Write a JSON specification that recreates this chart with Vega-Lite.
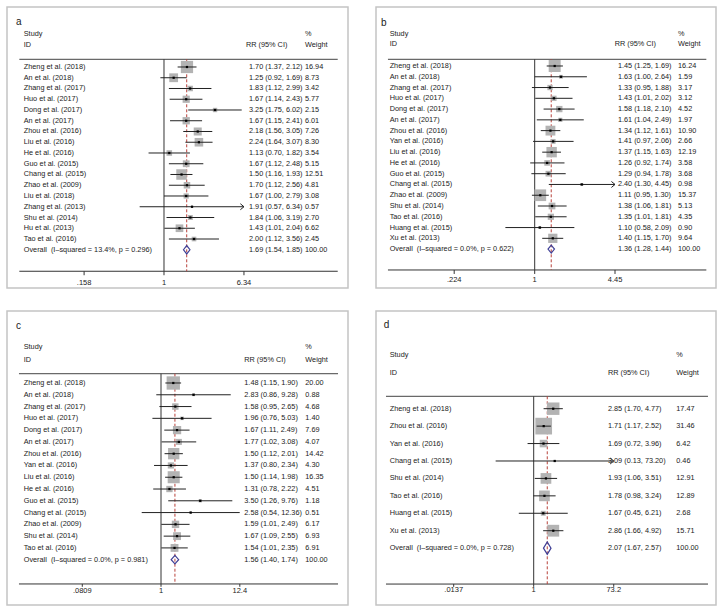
{
"$schema":"https://vega.github.io/schema/vega-lite/v6.json",
"padding":{"left":6,"top":6,"right":0,"bottom":0},
"background":"white",
"config":{"view":{"stroke":"#c4c4c4","strokeWidth":1.5},"font":"Liberation Sans","text":{"font":"Liberation Sans","fontSize":7.3,"color":"#222","align":"left","baseline":"middle"}},
"datasets":{
"a":[
{"i":1,"study":"Zheng et al. (2018)","rr":1.70,"lo":1.37,"hi":2.12,"ci":"1.70 (1.37, 2.12)","w":16.94,"kind":"study"},
{"i":2,"study":"An et al. (2018)","rr":1.25,"lo":0.92,"hi":1.69,"ci":"1.25 (0.92, 1.69)","w":8.73,"kind":"study"},
{"i":3,"study":"Zhang et al. (2017)","rr":1.83,"lo":1.12,"hi":2.99,"ci":"1.83 (1.12, 2.99)","w":3.42,"kind":"study"},
{"i":4,"study":"Huo et al. (2017)","rr":1.67,"lo":1.14,"hi":2.43,"ci":"1.67 (1.14, 2.43)","w":5.77,"kind":"study"},
{"i":5,"study":"Dong et al. (2017)","rr":3.25,"lo":1.75,"hi":6.02,"ci":"3.25 (1.75, 6.02)","w":2.15,"kind":"study"},
{"i":6,"study":"An et al. (2017)","rr":1.67,"lo":1.15,"hi":2.41,"ci":"1.67 (1.15, 2.41)","w":6.01,"kind":"study"},
{"i":7,"study":"Zhou et al. (2016)","rr":2.18,"lo":1.56,"hi":3.05,"ci":"2.18 (1.56, 3.05)","w":7.26,"kind":"study"},
{"i":8,"study":"Liu et al. (2016)","rr":2.24,"lo":1.64,"hi":3.07,"ci":"2.24 (1.64, 3.07)","w":8.30,"kind":"study"},
{"i":9,"study":"He et al. (2016)","rr":1.13,"lo":0.70,"hi":1.82,"ci":"1.13 (0.70, 1.82)","w":3.54,"kind":"study"},
{"i":10,"study":"Guo et al. (2015)","rr":1.67,"lo":1.12,"hi":2.48,"ci":"1.67 (1.12, 2.48)","w":5.15,"kind":"study"},
{"i":11,"study":"Chang et al. (2015)","rr":1.50,"lo":1.16,"hi":1.93,"ci":"1.50 (1.16, 1.93)","w":12.51,"kind":"study"},
{"i":12,"study":"Zhao et al. (2009)","rr":1.70,"lo":1.12,"hi":2.56,"ci":"1.70 (1.12, 2.56)","w":4.81,"kind":"study"},
{"i":13,"study":"Liu et al. (2018)","rr":1.67,"lo":1.00,"hi":2.79,"ci":"1.67 (1.00, 2.79)","w":3.08,"kind":"study"},
{"i":14,"study":"Zhang et al. (2013)","rr":1.91,"lo":0.57,"hi":6.34,"ci":"1.91 (0.57, 6.34)","w":0.57,"kind":"study"},
{"i":15,"study":"Shu et al. (2014)","rr":1.84,"lo":1.06,"hi":3.19,"ci":"1.84 (1.06, 3.19)","w":2.70,"kind":"study"},
{"i":16,"study":"Hu et al. (2013)","rr":1.43,"lo":1.01,"hi":2.04,"ci":"1.43 (1.01, 2.04)","w":6.62,"kind":"study"},
{"i":17,"study":"Tao et al. (2016)","rr":2.00,"lo":1.12,"hi":3.56,"ci":"2.00 (1.12, 3.56)","w":2.45,"kind":"study"},
{"i":18,"study":"Overall\u00a0 (I–squared = 13.4%, p = 0.296)","rr":1.69,"lo":1.54,"hi":1.85,"ci":"1.69 (1.54, 1.85)","w":100.00,"kind":"overall"}
],
"b":[
{"i":1,"study":"Zheng et al. (2018)","rr":1.45,"lo":1.25,"hi":1.69,"ci":"1.45 (1.25, 1.69)","w":16.24,"kind":"study"},
{"i":2,"study":"An et al. (2018)","rr":1.63,"lo":1.00,"hi":2.64,"ci":"1.63 (1.00, 2.64)","w":1.59,"kind":"study"},
{"i":3,"study":"Zhang et al. (2017)","rr":1.33,"lo":0.95,"hi":1.88,"ci":"1.33 (0.95, 1.88)","w":3.17,"kind":"study"},
{"i":4,"study":"Huo et al. (2017)","rr":1.43,"lo":1.01,"hi":2.02,"ci":"1.43 (1.01, 2.02)","w":3.12,"kind":"study"},
{"i":5,"study":"Dong et al. (2017)","rr":1.58,"lo":1.18,"hi":2.10,"ci":"1.58 (1.18, 2.10)","w":4.52,"kind":"study"},
{"i":6,"study":"An et al. (2017)","rr":1.61,"lo":1.04,"hi":2.49,"ci":"1.61 (1.04, 2.49)","w":1.97,"kind":"study"},
{"i":7,"study":"Zhou et al. (2016)","rr":1.34,"lo":1.12,"hi":1.61,"ci":"1.34 (1.12, 1.61)","w":10.90,"kind":"study"},
{"i":8,"study":"Yan et al. (2016)","rr":1.41,"lo":0.97,"hi":2.06,"ci":"1.41 (0.97, 2.06)","w":2.66,"kind":"study"},
{"i":9,"study":"Liu et al. (2016)","rr":1.37,"lo":1.15,"hi":1.63,"ci":"1.37 (1.15, 1.63)","w":12.19,"kind":"study"},
{"i":10,"study":"He et al. (2016)","rr":1.26,"lo":0.92,"hi":1.74,"ci":"1.26 (0.92, 1.74)","w":3.58,"kind":"study"},
{"i":11,"study":"Guo et al. (2015)","rr":1.29,"lo":0.94,"hi":1.78,"ci":"1.29 (0.94, 1.78)","w":3.68,"kind":"study"},
{"i":12,"study":"Chang et al. (2015)","rr":2.40,"lo":1.30,"hi":4.45,"ci":"2.40 (1.30, 4.45)","w":0.98,"kind":"study"},
{"i":13,"study":"Zhao et al. (2009)","rr":1.11,"lo":0.95,"hi":1.30,"ci":"1.11 (0.95, 1.30)","w":15.37,"kind":"study"},
{"i":14,"study":"Shu et al. (2014)","rr":1.38,"lo":1.06,"hi":1.81,"ci":"1.38 (1.06, 1.81)","w":5.13,"kind":"study"},
{"i":15,"study":"Tao et al. (2016)","rr":1.35,"lo":1.01,"hi":1.81,"ci":"1.35 (1.01, 1.81)","w":4.35,"kind":"study"},
{"i":16,"study":"Huang et al. (2015)","rr":1.10,"lo":0.58,"hi":2.09,"ci":"1.10 (0.58, 2.09)","w":0.90,"kind":"study"},
{"i":17,"study":"Xu et al. (2013)","rr":1.40,"lo":1.15,"hi":1.70,"ci":"1.40 (1.15, 1.70)","w":9.64,"kind":"study"},
{"i":18,"study":"Overall\u00a0 (I–squared = 0.0%, p = 0.622)","rr":1.36,"lo":1.28,"hi":1.44,"ci":"1.36 (1.28, 1.44)","w":100.00,"kind":"overall"}
],
"c":[
{"i":1,"study":"Zheng et al. (2018)","rr":1.48,"lo":1.15,"hi":1.90,"ci":"1.48 (1.15, 1.90)","w":20.00,"kind":"study"},
{"i":2,"study":"An et al. (2018)","rr":2.83,"lo":0.86,"hi":9.28,"ci":"2.83 (0.86, 9.28)","w":0.88,"kind":"study"},
{"i":3,"study":"Zhang et al. (2017)","rr":1.58,"lo":0.95,"hi":2.65,"ci":"1.58 (0.95, 2.65)","w":4.68,"kind":"study"},
{"i":4,"study":"Huo et al. (2017)","rr":1.96,"lo":0.76,"hi":5.03,"ci":"1.96 (0.76, 5.03)","w":1.40,"kind":"study"},
{"i":5,"study":"Dong et al. (2017)","rr":1.67,"lo":1.11,"hi":2.49,"ci":"1.67 (1.11, 2.49)","w":7.69,"kind":"study"},
{"i":6,"study":"An et al. (2017)","rr":1.77,"lo":1.02,"hi":3.08,"ci":"1.77 (1.02, 3.08)","w":4.07,"kind":"study"},
{"i":7,"study":"Zhou et al. (2016)","rr":1.50,"lo":1.12,"hi":2.01,"ci":"1.50 (1.12, 2.01)","w":14.42,"kind":"study"},
{"i":8,"study":"Yan et al. (2016)","rr":1.37,"lo":0.80,"hi":2.34,"ci":"1.37 (0.80, 2.34)","w":4.30,"kind":"study"},
{"i":9,"study":"Liu et al. (2016)","rr":1.50,"lo":1.14,"hi":1.98,"ci":"1.50 (1.14, 1.98)","w":16.35,"kind":"study"},
{"i":10,"study":"He et al. (2016)","rr":1.31,"lo":0.78,"hi":2.22,"ci":"1.31 (0.78, 2.22)","w":4.51,"kind":"study"},
{"i":11,"study":"Guo et al. (2015)","rr":3.50,"lo":1.26,"hi":9.76,"ci":"3.50 (1.26, 9.76)","w":1.18,"kind":"study"},
{"i":12,"study":"Chang et al. (2015)","rr":2.58,"lo":0.54,"hi":12.36,"ci":"2.58 (0.54, 12.36)","w":0.51,"kind":"study"},
{"i":13,"study":"Zhao et al. (2009)","rr":1.59,"lo":1.01,"hi":2.49,"ci":"1.59 (1.01, 2.49)","w":6.17,"kind":"study"},
{"i":14,"study":"Shu et al. (2014)","rr":1.67,"lo":1.09,"hi":2.55,"ci":"1.67 (1.09, 2.55)","w":6.93,"kind":"study"},
{"i":15,"study":"Tao et al. (2016)","rr":1.54,"lo":1.01,"hi":2.35,"ci":"1.54 (1.01, 2.35)","w":6.91,"kind":"study"},
{"i":16,"study":"Overall\u00a0 (I–squared = 0.0%, p = 0.981)","rr":1.56,"lo":1.40,"hi":1.74,"ci":"1.56 (1.40, 1.74)","w":100.00,"kind":"overall"}
],
"d":[
{"i":1,"study":"Zheng et al. (2018)","rr":2.85,"lo":1.70,"hi":4.77,"ci":"2.85 (1.70, 4.77)","w":17.47,"kind":"study"},
{"i":2,"study":"Zhou et al. (2016)","rr":1.71,"lo":1.17,"hi":2.52,"ci":"1.71 (1.17, 2.52)","w":31.46,"kind":"study"},
{"i":3,"study":"Yan et al. (2016)","rr":1.69,"lo":0.72,"hi":3.96,"ci":"1.69 (0.72, 3.96)","w":6.42,"kind":"study"},
{"i":4,"study":"Chang et al. (2015)","rr":3.09,"lo":0.13,"hi":73.20,"ci":"3.09 (0.13, 73.20)","w":0.46,"kind":"study"},
{"i":5,"study":"Shu et al. (2014)","rr":1.93,"lo":1.06,"hi":3.51,"ci":"1.93 (1.06, 3.51)","w":12.91,"kind":"study"},
{"i":6,"study":"Tao et al. (2016)","rr":1.78,"lo":0.98,"hi":3.24,"ci":"1.78 (0.98, 3.24)","w":12.89,"kind":"study"},
{"i":7,"study":"Huang et al. (2015)","rr":1.67,"lo":0.45,"hi":6.21,"ci":"1.67 (0.45, 6.21)","w":2.68,"kind":"study"},
{"i":8,"study":"Xu et al. (2013)","rr":2.86,"lo":1.66,"hi":4.92,"ci":"2.86 (1.66, 4.92)","w":15.71,"kind":"study"},
{"i":9,"study":"Overall\u00a0 (I–squared = 0.0%, p = 0.728)","rr":2.07,"lo":1.67,"hi":2.57,"ci":"2.07 (1.67, 2.57)","w":100.00,"kind":"overall"}
]
},
"spacing":21,
"vconcat":[
{"spacing":26,"hconcat":[
{"width":341,"height":281,"data":{"name":"a"},"layer":[
{"data":{"values":[{}]},"mark":{"type":"rule","color":"#444","strokeWidth":1},"encoding":{"x":{"datum":0.0354,"axis":null},"x2":{"datum":55.3},"y":{"datum":0.284,"axis":null}}},
{"data":{"values":[{}]},"mark":{"type":"rule","color":"#333","strokeWidth":1},"encoding":{"x":{"datum":0.0354,"axis":null},"x2":{"datum":55.3},"y":{"datum":20,"axis":null}}},
{"data":{"values":[{}]},"mark":{"type":"rule","color":"#333","strokeWidth":1},"encoding":{"x":{"datum":1,"axis":null},"y":{"datum":0.284,"axis":null},"y2":{"datum":20}}},
{"data":{"values":[{}]},"mark":{"type":"rule","color":"#b8413a","strokeWidth":1,"strokeDash":[3,2]},"encoding":{"x":{"datum":1.69,"axis":null},"y":{"datum":0.284,"axis":null},"y2":{"datum":20}}},
{"data":{"values":[{"t":0.158,"lab":".158"},{"t":1,"lab":"1"},{"t":6.34,"lab":"6.34"}]},"layer":[
{"mark":{"type":"rule","color":"#333","strokeWidth":1},"encoding":{"x":{"field":"t","type":"quantitative","axis":null},"y":{"datum":20,"axis":null},"y2":{"datum":20.37}}},
{"mark":{"type":"text","align":"center","fontSize":7.5},"encoding":{"x":{"field":"t","type":"quantitative","axis":null},"y":{"datum":21.09,"axis":null},"text":{"field":"lab"}}}
]},
{"transform":[{"filter":"datum.kind=='study'"}],"mark":{"type":"square","color":"#b3b3b3","opacity":1},"encoding":{"x":{"field":"rr","type":"quantitative","scale":{"type":"log","domain":[0.02662,70.1],"nice":false},"axis":null},"y":{"field":"i","type":"quantitative","scale":{"domain":[-4.581,21.558],"reverse":true,"nice":false,"zero":false},"axis":null},"size":{"field":"w","type":"quantitative","scale":{"domain":[0,16.94],"range":[0,279]},"legend":null}}},
{"transform":[{"filter":"datum.kind=='study'"}],"mark":{"type":"rule","color":"#222","strokeWidth":1},"encoding":{"x":{"field":"lo","type":"quantitative","axis":null},"x2":{"field":"hi"},"y":{"field":"i","type":"quantitative","axis":null}}},
{"transform":[{"filter":"datum.kind=='study' && datum.hi>=6.34"}],"mark":{"type":"point","shape":"M-1.2,-1L0,0L-1.2,1","filled":false,"stroke":"#222","strokeWidth":1,"size":36,"opacity":1},"encoding":{"x":{"field":"hi","type":"quantitative","axis":null},"y":{"field":"i","type":"quantitative","axis":null}}},
{"transform":[{"filter":"datum.kind=='study'"}],"mark":{"type":"point","shape":"square","filled":true,"color":"#000","size":5,"opacity":1},"encoding":{"x":{"field":"rr","type":"quantitative","axis":null},"y":{"field":"i","type":"quantitative","axis":null}}},
{"transform":[{"filter":"datum.kind=='overall'"}],"mark":{"type":"point","shape":"M-0.78,0L0,-1L0.78,0L0,1Z","filled":false,"stroke":"#3f3f96","strokeWidth":1.2,"size":69,"opacity":1},"encoding":{"x":{"field":"rr","type":"quantitative","axis":null},"y":{"field":"i","type":"quantitative","axis":null}}},
{"mark":{"type":"text"},"encoding":{"x":{"datum":0.0392,"axis":null},"y":{"field":"i","type":"quantitative","axis":null},"text":{"field":"study"}}},
{"mark":{"type":"text"},"encoding":{"x":{"datum":7.12,"axis":null},"y":{"field":"i","type":"quantitative","axis":null},"text":{"field":"ci"}}},
{"mark":{"type":"text"},"encoding":{"x":{"datum":25.95,"axis":null},"y":{"field":"i","type":"quantitative","axis":null},"text":{"field":"w","type":"quantitative","format":".2f"}}},
{"data":{"values":[{}]},"mark":{"type":"text","text":"a","fontSize":10},"encoding":{"x":{"datum":0.0328,"axis":null},"y":{"datum":-3.19,"axis":null}}},
{"data":{"values":[{}]},"mark":{"type":"text","text":"Study"},"encoding":{"x":{"datum":0.0392,"axis":null},"y":{"datum":-2.04,"axis":null}}},
{"data":{"values":[{}]},"mark":{"type":"text","text":"ID"},"encoding":{"x":{"datum":0.0392,"axis":null},"y":{"datum":-1.05,"axis":null}}},
{"data":{"values":[{}]},"mark":{"type":"text","text":"RR (95% CI)"},"encoding":{"x":{"datum":6.645,"axis":null},"y":{"datum":-1.05,"axis":null}}},
{"data":{"values":[{}]},"mark":{"type":"text","text":"%"},"encoding":{"x":{"datum":25.95,"axis":null},"y":{"datum":-2.04,"axis":null}}},
{"data":{"values":[{}]},"mark":{"type":"text","text":"Weight"},"encoding":{"x":{"datum":25.95,"axis":null},"y":{"datum":-1.05,"axis":null}}}
]},
{"width":340,"height":281,"data":{"name":"b"},"layer":[
{"data":{"values":[{}]},"mark":{"type":"rule","color":"#444","strokeWidth":1},"encoding":{"x":{"datum":0.0654,"axis":null},"x2":{"datum":24.3},"y":{"datum":0.378,"axis":null}}},
{"data":{"values":[{}]},"mark":{"type":"rule","color":"#333","strokeWidth":1},"encoding":{"x":{"datum":0.0654,"axis":null},"x2":{"datum":24.3},"y":{"datum":19.94,"axis":null}}},
{"data":{"values":[{}]},"mark":{"type":"rule","color":"#333","strokeWidth":1},"encoding":{"x":{"datum":1,"axis":null},"y":{"datum":0.378,"axis":null},"y2":{"datum":19.94}}},
{"data":{"values":[{}]},"mark":{"type":"rule","color":"#b8413a","strokeWidth":1,"strokeDash":[3,2]},"encoding":{"x":{"datum":1.36,"axis":null},"y":{"datum":0.378,"axis":null},"y2":{"datum":19.94}}},
{"data":{"values":[{"t":0.224,"lab":".224"},{"t":1,"lab":"1"},{"t":4.45,"lab":"4.45"}]},"layer":[
{"mark":{"type":"rule","color":"#333","strokeWidth":1},"encoding":{"x":{"field":"t","type":"quantitative","axis":null},"y":{"datum":19.94,"axis":null},"y2":{"datum":20.31}}},
{"mark":{"type":"text","align":"center","fontSize":7.5},"encoding":{"x":{"field":"t","type":"quantitative","axis":null},"y":{"datum":20.85,"axis":null},"text":{"field":"lab"}}}
]},
{"transform":[{"filter":"datum.kind=='study'"}],"mark":{"type":"square","color":"#b3b3b3","opacity":1},"encoding":{"x":{"field":"rr","type":"quantitative","scale":{"type":"log","domain":[0.05236,29.08],"nice":false},"axis":null},"y":{"field":"i","type":"quantitative","scale":{"domain":[-4.478,21.613],"reverse":true,"nice":false,"zero":false},"axis":null},"size":{"field":"w","type":"quantitative","scale":{"domain":[0,16.24],"range":[0,225]},"legend":null}}},
{"transform":[{"filter":"datum.kind=='study'"}],"mark":{"type":"rule","color":"#222","strokeWidth":1},"encoding":{"x":{"field":"lo","type":"quantitative","axis":null},"x2":{"field":"hi"},"y":{"field":"i","type":"quantitative","axis":null}}},
{"transform":[{"filter":"datum.kind=='study' && datum.hi>=4.45"}],"mark":{"type":"point","shape":"M-1.2,-1L0,0L-1.2,1","filled":false,"stroke":"#222","strokeWidth":1,"size":36,"opacity":1},"encoding":{"x":{"field":"hi","type":"quantitative","axis":null},"y":{"field":"i","type":"quantitative","axis":null}}},
{"transform":[{"filter":"datum.kind=='study'"}],"mark":{"type":"point","shape":"square","filled":true,"color":"#000","size":5,"opacity":1},"encoding":{"x":{"field":"rr","type":"quantitative","axis":null},"y":{"field":"i","type":"quantitative","axis":null}}},
{"transform":[{"filter":"datum.kind=='overall'"}],"mark":{"type":"point","shape":"M-0.81,0L0,-1L0.81,0L0,1Z","filled":false,"stroke":"#3f3f96","strokeWidth":1.2,"size":64,"opacity":1},"encoding":{"x":{"field":"rr","type":"quantitative","axis":null},"y":{"field":"i","type":"quantitative","axis":null}}},
{"mark":{"type":"text"},"encoding":{"x":{"datum":0.0675,"axis":null},"y":{"field":"i","type":"quantitative","axis":null},"text":{"field":"study"}}},
{"mark":{"type":"text"},"encoding":{"x":{"datum":4.70,"axis":null},"y":{"field":"i","type":"quantitative","axis":null},"text":{"field":"ci"}}},
{"mark":{"type":"text"},"encoding":{"x":{"datum":14.35,"axis":null},"y":{"field":"i","type":"quantitative","axis":null},"text":{"field":"w","type":"quantitative","format":".2f"}}},
{"data":{"values":[{}]},"mark":{"type":"text","text":"b","fontSize":10},"encoding":{"x":{"datum":0.0574,"axis":null},"y":{"datum":-3.02,"axis":null}}},
{"data":{"values":[{}]},"mark":{"type":"text","text":"Study"},"encoding":{"x":{"datum":0.0675,"axis":null},"y":{"datum":-1.943,"axis":null}}},
{"data":{"values":[{}]},"mark":{"type":"text","text":"ID"},"encoding":{"x":{"datum":0.0675,"axis":null},"y":{"datum":-1.015,"axis":null}}},
{"data":{"values":[{}]},"mark":{"type":"text","text":"RR (95% CI)"},"encoding":{"x":{"datum":4.42,"axis":null},"y":{"datum":-1.015,"axis":null}}},
{"data":{"values":[{}]},"mark":{"type":"text","text":"%"},"encoding":{"x":{"datum":14.35,"axis":null},"y":{"datum":-1.943,"axis":null}}},
{"data":{"values":[{}]},"mark":{"type":"text","text":"Weight"},"encoding":{"x":{"datum":14.35,"axis":null},"y":{"datum":-1.015,"axis":null}}}
]}
]},
{"spacing":26,"hconcat":[
{"width":341,"height":294,"data":{"name":"c"},"layer":[
{"data":{"values":[{}]},"mark":{"type":"rule","color":"#444","strokeWidth":1},"encoding":{"x":{"datum":0.0107,"axis":null},"x2":{"datum":285.7},"y":{"datum":0.211,"axis":null}}},
{"data":{"values":[{}]},"mark":{"type":"rule","color":"#333","strokeWidth":1},"encoding":{"x":{"datum":0.0107,"axis":null},"x2":{"datum":285.7},"y":{"datum":18.06,"axis":null}}},
{"data":{"values":[{}]},"mark":{"type":"rule","color":"#333","strokeWidth":1},"encoding":{"x":{"datum":1,"axis":null},"y":{"datum":0.211,"axis":null},"y2":{"datum":18.06}}},
{"data":{"values":[{}]},"mark":{"type":"rule","color":"#b8413a","strokeWidth":1,"strokeDash":[3,2]},"encoding":{"x":{"datum":1.56,"axis":null},"y":{"datum":0.211,"axis":null},"y2":{"datum":18.06}}},
{"data":{"values":[{"t":0.0809,"lab":".0809"},{"t":1,"lab":"1"},{"t":12.4,"lab":"12.4"}]},"layer":[
{"mark":{"type":"rule","color":"#333","strokeWidth":1},"encoding":{"x":{"field":"t","type":"quantitative","axis":null},"y":{"datum":18.06,"axis":null},"y2":{"datum":18.3}}},
{"mark":{"type":"text","align":"center","fontSize":7.5},"encoding":{"x":{"field":"t","type":"quantitative","axis":null},"y":{"datum":18.66,"axis":null},"text":{"field":"lab"}}}
]},
{"transform":[{"filter":"datum.kind=='study'"}],"mark":{"type":"square","color":"#b3b3b3","opacity":1},"encoding":{"x":{"field":"rr","type":"quantitative","scale":{"type":"log","domain":[0.0073,393],"nice":false},"axis":null},"y":{"field":"i","type":"quantitative","scale":{"domain":[-5.112,19.846],"reverse":true,"nice":false,"zero":false},"axis":null},"size":{"field":"w","type":"quantitative","scale":{"domain":[0,20],"range":[0,313]},"legend":null}}},
{"transform":[{"filter":"datum.kind=='study'"}],"mark":{"type":"rule","color":"#222","strokeWidth":1},"encoding":{"x":{"field":"lo","type":"quantitative","axis":null},"x2":{"field":"hi"},"y":{"field":"i","type":"quantitative","axis":null}}},
{"transform":[{"filter":"datum.kind=='study'"}],"mark":{"type":"point","shape":"square","filled":true,"color":"#000","size":5,"opacity":1},"encoding":{"x":{"field":"rr","type":"quantitative","axis":null},"y":{"field":"i","type":"quantitative","axis":null}}},
{"transform":[{"filter":"datum.kind=='overall'"}],"mark":{"type":"point","shape":"M-0.88,0L0,-1L0.88,0L0,1Z","filled":false,"stroke":"#3f3f96","strokeWidth":1.2,"size":72,"opacity":1},"encoding":{"x":{"field":"rr","type":"quantitative","axis":null},"y":{"field":"i","type":"quantitative","axis":null}}},
{"mark":{"type":"text"},"encoding":{"x":{"datum":0.01245,"axis":null},"y":{"field":"i","type":"quantitative","axis":null},"text":{"field":"study"}}},
{"mark":{"type":"text"},"encoding":{"x":{"datum":14.31,"axis":null},"y":{"field":"i","type":"quantitative","axis":null},"text":{"field":"ci"}}},
{"mark":{"type":"text"},"encoding":{"x":{"datum":100.5,"axis":null},"y":{"field":"i","type":"quantitative","axis":null},"text":{"field":"w","type":"quantitative","format":".2f"}}},
{"data":{"values":[{}]},"mark":{"type":"text","text":"c","fontSize":10},"encoding":{"x":{"datum":0.00973,"axis":null},"y":{"datum":-3.839,"axis":null}}},
{"data":{"values":[{}]},"mark":{"type":"text","text":"Study"},"encoding":{"x":{"datum":0.01245,"axis":null},"y":{"datum":-2.031,"axis":null}}},
{"data":{"values":[{}]},"mark":{"type":"text","text":"ID"},"encoding":{"x":{"datum":0.01245,"axis":null},"y":{"datum":-0.978,"axis":null}}},
{"data":{"values":[{}]},"mark":{"type":"text","text":"RR (95% CI)"},"encoding":{"x":{"datum":14.31,"axis":null},"y":{"datum":-0.978,"axis":null}}},
{"data":{"values":[{}]},"mark":{"type":"text","text":"%"},"encoding":{"x":{"datum":100.5,"axis":null},"y":{"datum":-2.031,"axis":null}}},
{"data":{"values":[{}]},"mark":{"type":"text","text":"Weight"},"encoding":{"x":{"datum":100.5,"axis":null},"y":{"datum":-0.978,"axis":null}}}
]},
{"width":340,"height":294,"data":{"name":"d"},"layer":[
{"data":{"values":[{}]},"mark":{"type":"rule","color":"#444","strokeWidth":1},"encoding":{"x":{"datum":0.000363,"axis":null},"x2":{"datum":11470},"y":{"datum":0.289,"axis":null}}},
{"data":{"values":[{}]},"mark":{"type":"rule","color":"#333","strokeWidth":1},"encoding":{"x":{"datum":0.000363,"axis":null},"x2":{"datum":11470},"y":{"datum":11.06,"axis":null}}},
{"data":{"values":[{}]},"mark":{"type":"rule","color":"#333","strokeWidth":1},"encoding":{"x":{"datum":1,"axis":null},"y":{"datum":0.289,"axis":null},"y2":{"datum":11.06}}},
{"data":{"values":[{}]},"mark":{"type":"rule","color":"#b8413a","strokeWidth":1,"strokeDash":[3,2]},"encoding":{"x":{"datum":2.07,"axis":null},"y":{"datum":0.289,"axis":null},"y2":{"datum":11.06}}},
{"data":{"values":[{"t":0.0137,"lab":".0137"},{"t":1,"lab":"1"},{"t":73.2,"lab":"73.2"}]},"layer":[
{"mark":{"type":"rule","color":"#333","strokeWidth":1},"encoding":{"x":{"field":"t","type":"quantitative","axis":null},"y":{"datum":11.06,"axis":null},"y2":{"datum":11.22}}},
{"mark":{"type":"text","align":"center","fontSize":7.5},"encoding":{"x":{"field":"t","type":"quantitative","axis":null},"y":{"datum":11.385,"axis":null},"text":{"field":"lab"}}}
]},
{"transform":[{"filter":"datum.kind=='study'"}],"mark":{"type":"square","color":"#b3b3b3","opacity":1},"encoding":{"x":{"field":"rr","type":"quantitative","scale":{"type":"log","domain":[0.0002125,17620],"nice":false},"axis":null},"y":{"field":"i","type":"quantitative","scale":{"domain":[-4.605,12.262],"reverse":true,"nice":false,"zero":false},"axis":null},"size":{"field":"w","type":"quantitative","scale":{"domain":[0,31.46],"range":[0,306]},"legend":null}}},
{"transform":[{"filter":"datum.kind=='study'"}],"mark":{"type":"rule","color":"#222","strokeWidth":1},"encoding":{"x":{"field":"lo","type":"quantitative","axis":null},"x2":{"field":"hi"},"y":{"field":"i","type":"quantitative","axis":null}}},
{"transform":[{"filter":"datum.kind=='study' && datum.hi>=73.2"}],"mark":{"type":"point","shape":"M-1.2,-1L0,0L-1.2,1","filled":false,"stroke":"#222","strokeWidth":1,"size":36,"opacity":1},"encoding":{"x":{"field":"hi","type":"quantitative","axis":null},"y":{"field":"i","type":"quantitative","axis":null}}},
{"transform":[{"filter":"datum.kind=='study'"}],"mark":{"type":"point","shape":"square","filled":true,"color":"#000","size":5,"opacity":1},"encoding":{"x":{"field":"rr","type":"quantitative","axis":null},"y":{"field":"i","type":"quantitative","axis":null}}},
{"transform":[{"filter":"datum.kind=='overall'"}],"mark":{"type":"point","shape":"M-0.6,0L0,-1L0.6,0L0,1Z","filled":false,"stroke":"#3f3f96","strokeWidth":1.2,"size":156,"opacity":1},"encoding":{"x":{"field":"rr","type":"quantitative","axis":null},"y":{"field":"i","type":"quantitative","axis":null}}},
{"mark":{"type":"text"},"encoding":{"x":{"datum":0.000443,"axis":null},"y":{"field":"i","type":"quantitative","axis":null},"text":{"field":"study"}}},
{"mark":{"type":"text"},"encoding":{"x":{"datum":53.7,"axis":null},"y":{"field":"i","type":"quantitative","axis":null},"text":{"field":"ci"}}},
{"mark":{"type":"text"},"encoding":{"x":{"datum":2093,"axis":null},"y":{"field":"i","type":"quantitative","axis":null},"text":{"field":"w","type":"quantitative","format":".2f"}}},
{"data":{"values":[{}]},"mark":{"type":"text","text":"d","fontSize":10},"encoding":{"x":{"datum":0.000321,"axis":null},"y":{"datum":-3.819,"axis":null}}},
{"data":{"values":[{}]},"mark":{"type":"text","text":"Study"},"encoding":{"x":{"datum":0.000443,"axis":null},"y":{"datum":-2.098,"axis":null}}},
{"data":{"values":[{}]},"mark":{"type":"text","text":"ID"},"encoding":{"x":{"datum":0.000443,"axis":null},"y":{"datum":-1.048,"axis":null}}},
{"data":{"values":[{}]},"mark":{"type":"text","text":"RR (95% CI)"},"encoding":{"x":{"datum":53.7,"axis":null},"y":{"datum":-1.048,"axis":null}}},
{"data":{"values":[{}]},"mark":{"type":"text","text":"%"},"encoding":{"x":{"datum":2093,"axis":null},"y":{"datum":-2.098,"axis":null}}},
{"data":{"values":[{}]},"mark":{"type":"text","text":"Weight"},"encoding":{"x":{"datum":2093,"axis":null},"y":{"datum":-1.048,"axis":null}}}
]}
]}
]
}
